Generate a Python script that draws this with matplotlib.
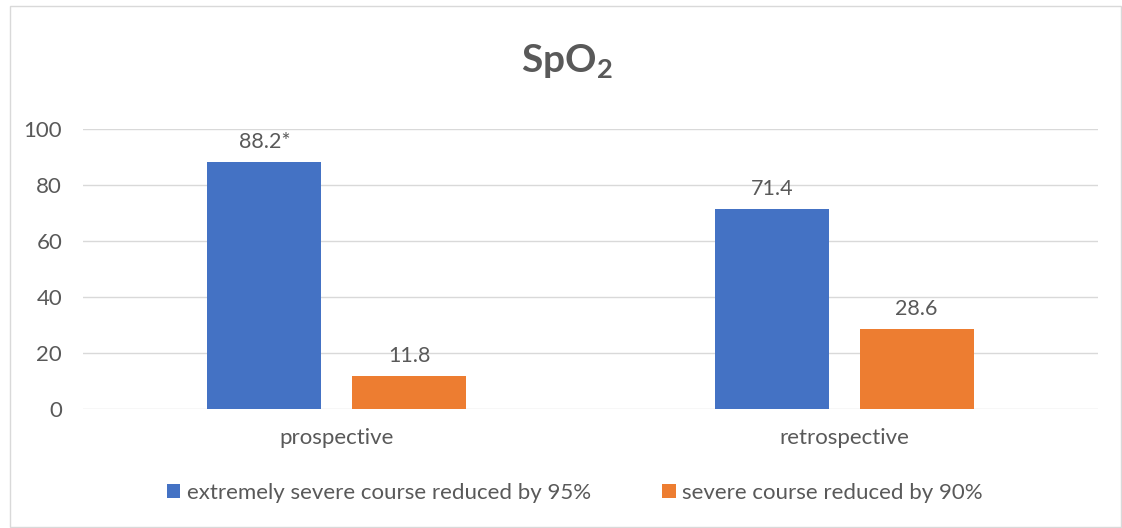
import matplotlib.pyplot as plt
from matplotlib.patches import Rectangle
import numpy as np

plt.rcParams['font.family'] = ['Lato', 'DejaVu Sans']
plt.rcParams['mathtext.fontset'] = 'custom'
plt.rcParams['mathtext.rm'] = 'Lato'
plt.rcParams['mathtext.bf'] = 'Lato:bold'

categories = ['prospective', 'retrospective']
extreme = [88.2, 71.4]
severe = [11.8, 28.6]
extreme_labels = ['88.2*', '71.4']
severe_labels = ['11.8', '28.6']

blue = '#4472C4'
orange = '#ED7D31'
grey = '#595959'

fig = plt.figure(figsize=(11.22, 5.28), dpi=100)
fig.patches.append(Rectangle((10 / 1122, 0.002), 1111 / 1122, 1 - 6 / 528 - 0.002,
                             transform=fig.transFigure, fill=False,
                             edgecolor='#D9D9D9', linewidth=1))
ax = fig.add_axes([83 / 1122, 119 / 528, 1015 / 1122, 280 / 528])

x = np.arange(len(categories))
w = 0.2246
b1 = ax.bar(x - 0.1425, extreme, w, color=blue, label='extremely severe course reduced by 95%')
b2 = ax.bar(x + 0.1425, severe, w, color=orange, label='severe course reduced by 90%')

for bars, labs in ((b1, extreme_labels), (b2, severe_labels)):
    for r, t in zip(bars, labs):
        ax.annotate(t, (r.get_x() + r.get_width() / 2, r.get_height()),
                    xytext=(0, 7), textcoords='offset points',
                    ha='center', va='bottom', fontsize=15.5, color=grey)

ax.set_xlim(-0.5, 1.5)
ax.set_ylim(0, 100)
ax.set_yticks(range(0, 101, 20))
ax.set_xticks(x)
ax.set_xticklabels(categories)
ax.tick_params(axis='both', length=0, labelsize=16, colors=grey)
ax.tick_params(axis='y', pad=15)
ax.tick_params(axis='x', pad=14)
ax.grid(axis='y', color='#D9D9D9', linewidth=1)
ax.set_axisbelow(True)
for s in ax.spines.values():
    s.set_visible(False)

fig.text(567 / 1122, 1 - 62 / 528, r'SpO$_\mathbf{2}$', ha='center', va='center',
         fontsize=28, fontweight='bold', color=grey)

fig.legend(loc='center', bbox_to_anchor=(575 / 1122, 1 - 493 / 528), ncol=2, frameon=False,
           fontsize=16, labelcolor=grey, handlelength=0.6, handleheight=0.6,
           handletextpad=0.3, columnspacing=3.2)

fig.savefig('out.png', dpi=100)
